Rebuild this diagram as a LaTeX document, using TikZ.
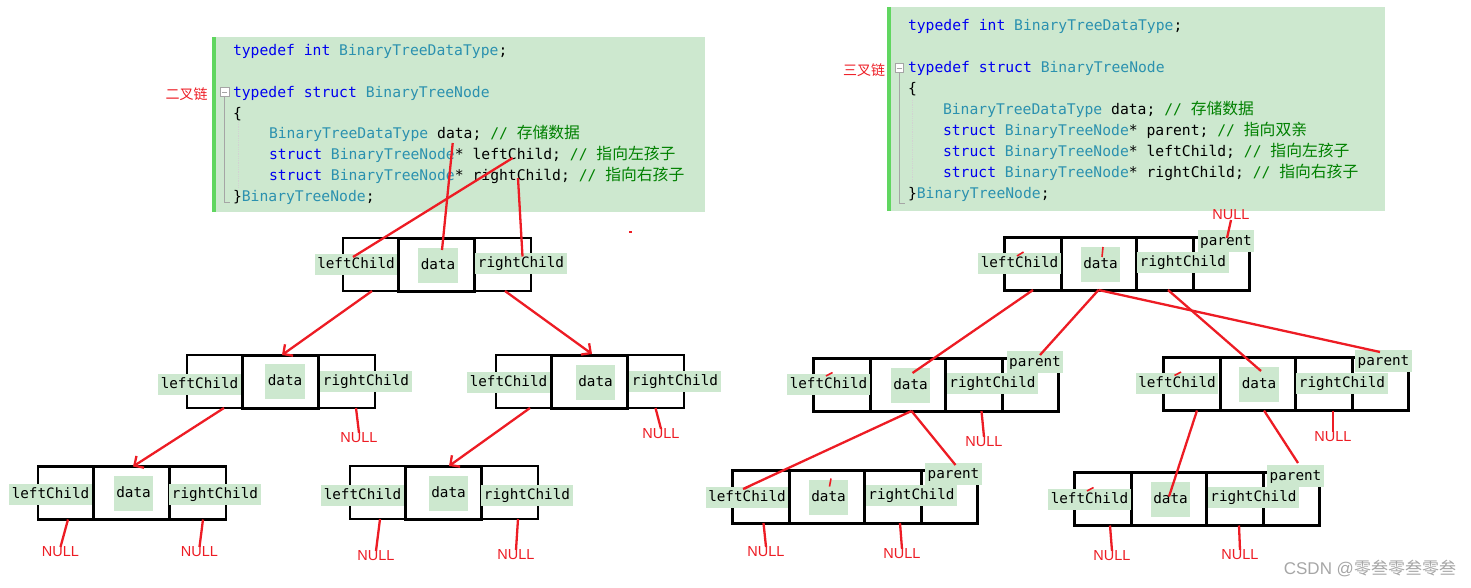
\documentclass[tikz,border=0pt]{standalone}
\usepackage{fontspec}
\setmonofont{DejaVu Sans Mono}
\newfontfamily\cjk{Noto Sans CJK SC}
\newfontfamily\lsans{Liberation Sans}
\usetikzlibrary{arrows.meta,positioning,calc}
\definecolor{codebg}{RGB}{205,232,207}
\definecolor{codebar}{RGB}{96,214,96}
\definecolor{kwblue}{RGB}{0,0,240}
\definecolor{tyteal}{RGB}{43,145,175}
\definecolor{cmgreen}{RGB}{0,128,0}
\definecolor{redln}{RGB}{237,28,36}
\definecolor{foldgray}{RGB}{165,165,165}
\newcommand\codefont{\ttfamily\fontsize{14.7}{14.7}\selectfont}
\newcommand\lblfont{\ttfamily\fontsize{14.3}{14.3}\selectfont}
\newcommand\kw[1]{\textcolor{kwblue}{#1}}
\newcommand\ty[1]{\textcolor{tyteal}{#1}}
\newcommand\cmnt[1]{\textcolor{cmgreen}{#1}}
\newcommand\zh[1]{{\cjk\fontsize{15.8}{15.8}\selectfont #1}}
\tikzset{
  >={Straight Barb[length=7pt,width=14pt]},
  every node/.style={inner sep=0pt,outer sep=0pt},
  codeln/.style={anchor=west,font=\codefont,text height=13pt,text depth=2.5pt},
  tag/.style={text=redln,font=\cjk\fontsize{14}{14}\selectfont},
  fold/.style={draw=foldgray,line width=1pt},
  guide/.style={draw=foldgray!50,line width=0.8pt,densely dotted},
  % left tree cells
  ltL/.style={draw,line width=2.2pt,minimum width=55pt,minimum height=53pt},
  ltD/.style={draw,line width=3pt,minimum width=76pt,minimum height=53pt},
  ltR/.style={draw,line width=2.2pt,minimum width=57pt,minimum height=53pt},
  % right tree cells
  rtL/.style={draw,line width=3pt,minimum width=57pt,minimum height=53pt},
  rtD/.style={draw,line width=3pt,minimum width=75pt,minimum height=53pt},
  rtR/.style={draw,line width=3pt,minimum width=57pt,minimum height=53pt},
  rtP/.style={draw,line width=3pt,minimum width=56pt,minimum height=53pt},
  lbl/.style={fill=codebg,font=\lblfont,inner xsep=2.5pt,minimum height=21pt,text height=10.5pt,text depth=2.5pt},
  dlbl/.style={lbl,minimum height=35pt},
  nul/.style={text=redln,font=\lsans\fontsize{14.5}{14.5}\selectfont},
  link/.style={draw=redln,line width=2.3pt},
  tick/.style={draw=redln,line width=1.6pt},
}
\begin{document}
\begin{tikzpicture}[x=1pt,y=-1pt]
  \useasboundingbox (0,0) rectangle (1471,588);

  % left code panel
  \fill[codebg] (216,37) rectangle (705,212);
  \fill[codebar] (212,37) rectangle (216,212);
  \draw[fold] (224.5,97) -- (224.5,202) -- (230,202);
  \draw[fold,fill=white] (220,88) rectangle (229,97);
  \draw[fold] (222,92.5) -- (227,92.5);
  \draw[guide] (238,122) -- (238,187);
  \node[tag] (tag2) at (186.5,94) {二叉链};
  \node[codeln] (a1) at (233,50)  {\kw{typedef} \kw{int} \ty{BinaryTreeDataType};};
  \node[codeln] (a2) at (233,92)  {\kw{typedef} \kw{struct} \ty{BinaryTreeNode}};
  \node[codeln] (a3) at (233,113) {\{};
  \node[codeln] (a4) at (269,133) {\ty{BinaryTreeDataType} data; \cmnt{// \zh{存储数据}}};
  \node[codeln] (a5) at (269,154) {\kw{struct} \ty{BinaryTreeNode}* leftChild; \cmnt{// \zh{指向左孩子}}};
  \node[codeln] (a6) at (269,175) {\kw{struct} \ty{BinaryTreeNode}* rightChild; \cmnt{// \zh{指向右孩子}}};
  \node[codeln] (a7) at (233,196) {\}\ty{BinaryTreeNode};};
  \coordinate (pLeft)  at (512.6,158);
  \coordinate (pData)  at (452.7,143);
  \coordinate (pRight) at (518,178);

  % right code panel
  \fill[codebg] (891,7) rectangle (1385,211);
  \fill[codebar] (887,7) rectangle (891,211);
  \draw[fold] (899,72.5) -- (899,203) -- (904.5,203);
  \draw[fold,fill=white] (895,64) rectangle (903.5,72.5);
  \draw[fold] (896.5,68.25) -- (902,68.25);
  \draw[guide] (912,100) -- (912,182);
  \node[tag] (tag3) at (864,70) {三叉链};
  \node[codeln] (b1) at (908,25)  {\kw{typedef} \kw{int} \ty{BinaryTreeDataType};};
  \node[codeln] (b2) at (908,67)  {\kw{typedef} \kw{struct} \ty{BinaryTreeNode}};
  \node[codeln] (b3) at (908,88)  {\{};
  \node[codeln] (b4) at (943,109) {\ty{BinaryTreeDataType} data; \cmnt{// \zh{存储数据}}};
  \node[codeln] (b5) at (943,130) {\kw{struct} \ty{BinaryTreeNode}* parent; \cmnt{// \zh{指向双亲}}};
  \node[codeln] (b6) at (943,151) {\kw{struct} \ty{BinaryTreeNode}* leftChild; \cmnt{// \zh{指向左孩子}}};
  \node[codeln] (b7) at (943,172) {\kw{struct} \ty{BinaryTreeNode}* rightChild; \cmnt{// \zh{指向右孩子}}};
  \node[codeln] (b8) at (908,193) {\}\ty{BinaryTreeNode};};

  % left tree: cells (root a, level 2 b/c, level 3 d/e)
  \node[ltL] (aL) at (370.5,264.5) {}; \node[ltD,right=0pt of aL] (aD) {}; \node[ltR,right=0pt of aD] (aR) {};
  \node[ltL] (bL) at (214.5,381.5) {}; \node[ltD,right=0pt of bL] (bD) {}; \node[ltR,right=0pt of bD] (bR) {};
  \node[ltL] (cL) at (523.5,381.5) {}; \node[ltD,right=0pt of cL] (cD) {}; \node[ltR,right=0pt of cD] (cR) {};
  \node[ltL] (dL) at (65.5,493)    {}; \node[ltD,right=0pt of dL] (dD) {}; \node[ltR,right=0pt of dD] (dR) {};
  \node[ltL] (eL) at (377.5,492.5) {}; \node[ltD,right=0pt of eL] (eD) {}; \node[ltR,right=0pt of eD] (eR) {};

  % left tree: field labels
  \node[lbl] (aLt) at (356,264.5) {leftChild};  \node[dlbl] (aDt) at (438,265) {data};     \node[lbl] (aRt) at (521,263.5) {rightChild};
  \node[lbl] (bLt) at (199.5,384) {leftChild};  \node[dlbl] (bDt) at (285,381) {data};     \node[lbl] (bRt) at (366,381.5) {rightChild};
  \node[lbl] (cLt) at (508.5,382.5) {leftChild};\node[dlbl] (cDt) at (595.5,382) {data};   \node[lbl] (cRt) at (675,381) {rightChild};
  \node[lbl] (dLt) at (50.5,494) {leftChild};   \node[dlbl] (dDt) at (133.5,493.5) {data}; \node[lbl] (dRt) at (215,494.5) {rightChild};
  \node[lbl] (eLt) at (362.5,495) {leftChild};  \node[dlbl] (eDt) at (448.5,493.5) {data}; \node[lbl] (eRt) at (527,495) {rightChild};

  % left tree: NULL ends
  \node[nul] (nB)  at (359,438)   {NULL};
  \node[nul] (nC)  at (661,434)   {NULL};
  \node[nul] (nD1) at (60.5,552)  {NULL};
  \node[nul] (nD2) at (199.5,552) {NULL};
  \node[nul] (nE1) at (376,556)   {NULL};
  \node[nul] (nE2) at (516,555)   {NULL};

  % right tree: cells (root f, level 2 g/h, level 3 i/j)
  \node[rtL] (fL) at (1032.5,263.5) {}; \node[rtD,right=0pt of fL] (fD) {}; \node[rtR,right=0pt of fD] (fR) {}; \node[rtP,right=0pt of fR] (fP) {};
  \node[rtL] (gL) at (841.5,384.5)  {}; \node[rtD,right=0pt of gL] (gD) {}; \node[rtR,right=0pt of gD] (gR) {}; \node[rtP,right=0pt of gR] (gP) {};
  \node[rtL] (hL) at (1191.5,384)   {}; \node[rtD,right=0pt of hL] (hD) {}; \node[rtR,right=0pt of hD] (hR) {}; \node[rtP,right=0pt of hR] (hP) {};
  \node[rtL] (iL) at (760.5,496.5)  {}; \node[rtD,right=0pt of iL] (iD) {}; \node[rtR,right=0pt of iD] (iR) {}; \node[rtP,right=0pt of iR] (iP) {};
  \node[rtL] (jL) at (1102.5,499)   {}; \node[rtD,right=0pt of jL] (jD) {}; \node[rtR,right=0pt of jD] (jR) {}; \node[rtP,right=0pt of jR] (jP) {};

  % right tree: field labels
  \node[lbl] (fLt) at (1019.5,263.5) {leftChild}; \node[dlbl] (fDt) at (1100.5,264.5) {data}; \node[lbl] (fRt) at (1183,262) {rightChild};   \node[lbl,minimum height=22pt] (fPt) at (1226,241) {parent};
  \node[lbl] (gLt) at (828.5,384) {leftChild};    \node[dlbl] (gDt) at (910.5,385) {data};     \node[lbl] (gRt) at (992.5,383) {rightChild};   \node[lbl,minimum height=22pt] (gPt) at (1035,362) {parent};
  \node[lbl] (hLt) at (1177,383.5) {leftChild};   \node[dlbl] (hDt) at (1259,384.5) {data};    \node[lbl] (hRt) at (1342,383) {rightChild};    \node[lbl,minimum height=22pt] (hPt) at (1383.5,361) {parent};
  \node[lbl] (iLt) at (747,497) {leftChild};      \node[dlbl] (iDt) at (828.5,497.5) {data};   \node[lbl] (iRt) at (911.5,495.5) {rightChild}; \node[lbl,minimum height=22pt] (iPt) at (953.5,474) {parent};
  \node[lbl] (jLt) at (1089.5,499) {leftChild};   \node[dlbl] (jDt) at (1170.5,499.5) {data};  \node[lbl] (jRt) at (1253.5,497) {rightChild};  \node[lbl,minimum height=22pt] (jPt) at (1295.5,476) {parent};

  % right tree: NULL ends
  \node[nul] (nF)  at (1231,215) {NULL};
  \node[nul] (nG)  at (984,442)  {NULL};
  \node[nul] (nH)  at (1333,437) {NULL};
  \node[nul] (nI1) at (766,552)  {NULL};
  \node[nul] (nI2) at (902,554)  {NULL};
  \node[nul] (nJ1) at (1112,556) {NULL};
  \node[nul] (nJ2) at (1240,555) {NULL};

  % left tree links
  \draw[link] (pLeft) -- ($(aLt.center)+(-3,-7.5)$);
  \draw[link] (pData) -- ($(aDt.center)+(4,-15)$);
  \draw[link] (pRight) -- ($(aRt.center)+(1.5,-7)$);
  \draw[link,->] ($(aL.south)+(1.5,0)$) -- ($(bD.north)+(2,0)$);
  \draw[link,->] ($(aR.south)+(2.5,0)$) -- ($(cD.north)+(3,-1)$);
  \draw[link,->] ($(bL.south)+(9.5,0)$) -- ($(dD.north)+(2,0)$);
  \draw[link,->] ($(cL.south)+(6.5,0)$) -- ($(eD.north)+(6,0)$);
  \draw[link] ($(bR.south)+(9.5,0)$) -- (nB.north);
  \draw[link] (cR.south) -- (nC.north);
  \draw[link] ($(dL.south)+(2.5,0)$) -- (nD1.north);
  \draw[link] ($(dR.south)+(5.5,0)$) -- (nD2.north);
  \draw[link] ($(eL.south)+(2.5,0)$) -- (nE1.north);
  \draw[link] ($(eR.south)+(8.5,0)$) -- (nE2.north);
  \draw[tick] (629,232) -- (632,232);

  % right tree links
  \draw[link] (nF.south) -- ($(fPt.center)+(1,-3)$);
  \draw[link] ($(fL.south)+(0.5,0)$) -- ($(gDt.center)+(2,-12)$);
  \draw[link] (fD.south) -- ($(gPt.center)+(5,-7)$);
  \draw[link] (fD.south) -- ($(hPt.center)+(-3.5,-9)$);
  \draw[link] ($(fR.south)+(3.5,0)$) -- ($(hDt.center)+(2,-13.5)$);
  \draw[link] ($(gD.south)+(4,0)$) -- ($(iLt.center)+(-4,-8)$);
  \draw[link] ($(gD.south)+(4,0)$) -- ($(iPt.center)+(2,-9)$);
  \draw[link] ($(gR.south)+(8,0)$) -- (nG.north);
  \draw[link] ($(hL.south)+(5.5,0)$) -- ($(jDt.center)+(-1.5,-3)$);
  \draw[link] ($(hD.south)+(6.5,0)$) -- ($(jPt.center)+(2.5,-13)$);
  \draw[link] ($(hR.south)+(9.5,0)$) -- (nH.north);
  \draw[link] ($(iL.south)+(3,0)$) -- (nI1.north);
  \draw[link] ($(iR.south)+(7.5,0)$) -- (nI2.north);
  \draw[link] ($(jL.south)+(7.5,0)$) -- (nJ1.north);
  \draw[link] ($(jR.south)+(4.5,0)$) -- (nJ2.north);
  % stray pen marks
  \draw[tick] ($(fLt.center)+(-2.5,-7.5)$) -- ($(fLt.center)+(4,-11.5)$);
  \draw[tick] ($(gLt.center)+(-2.5,-8)$) -- ($(gLt.center)+(4,-11.5)$);
  \draw[tick] ($(hLt.center)+(-2.5,-8)$) -- ($(hLt.center)+(4,-11.5)$);
  \draw[tick] ($(iLt.center)+(-2.5,-8)$) -- ($(iLt.center)+(4,-11.5)$);
  \draw[tick] ($(jLt.center)+(-2.5,-8)$) -- ($(jLt.center)+(4,-11.5)$);
  \draw[tick] ($(fDt.center)+(2.5,-17.5)$) -- ($(fDt.center)+(1.5,-7.5)$);
  \draw[tick] ($(iDt.center)+(2.5,-19)$) -- ($(iDt.center)+(1,-11)$);

  % watermark
  \node[anchor=east,text=black!35] (wm) at (1456,568) {\lsans\fontsize{17}{17}\selectfont CSDN @\cjk 零叁零叁零叁};
\end{tikzpicture}
\end{document}
